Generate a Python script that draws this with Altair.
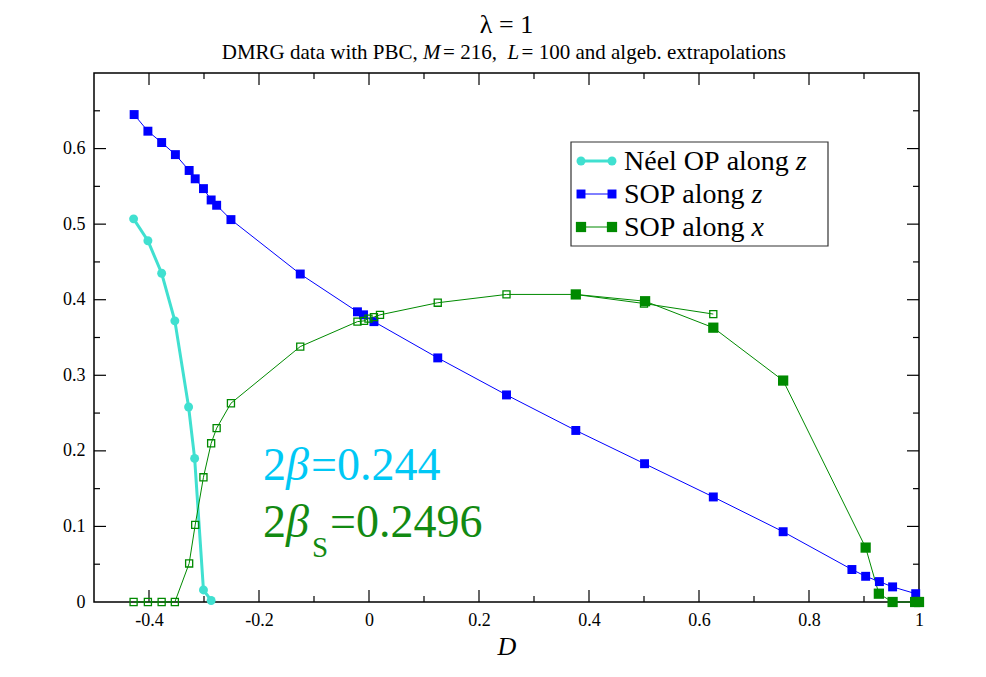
import altair as alt
import pandas as pd

# ---------------- data ----------------
neel_D = [-0.428, -0.402, -0.377, -0.353, -0.328, -0.317, -0.301, -0.287]
neel_v = [0.507, 0.478, 0.435, 0.372, 0.258, 0.190, 0.016, 0.002]

sopz_D = [-0.427, -0.402, -0.377, -0.352, -0.327, -0.316, -0.301, -0.287, -0.277, -0.251,
          -0.125, -0.021, -0.010, 0.009, 0.125, 0.250, 0.376, 0.501, 0.626, 0.753,
          0.878, 0.903, 0.928, 0.952, 0.994]
sopz_v = [0.645, 0.623, 0.608, 0.592, 0.571, 0.560, 0.547, 0.532, 0.525, 0.506,
          0.434, 0.384, 0.380, 0.371, 0.323, 0.274, 0.227, 0.183, 0.139, 0.093,
          0.043, 0.034, 0.027, 0.020, 0.011]

sopx_open_D = [-0.428, -0.402, -0.377, -0.353, -0.327, -0.316, -0.301, -0.287, -0.277, -0.251,
               -0.125, -0.021, -0.009, -0.001, 0.009, 0.020, 0.125, 0.250, 0.375, 0.500, 0.626]
sopx_open_v = [0.0, 0.0, 0.0, 0.0, 0.051, 0.102, 0.165, 0.210, 0.230, 0.263,
               0.338, 0.371, 0.372, 0.375, 0.377, 0.380, 0.396, 0.407, 0.407, 0.395, 0.381]

sopx_fill_D = [0.376, 0.502, 0.626, 0.753, 0.903, 0.927, 0.952, 0.993, 1.0]
sopx_fill_v = [0.407, 0.398, 0.363, 0.293, 0.072, 0.011, 0.0, 0.0, 0.0]

x_major = [-0.4, -0.2, 0.0, 0.2, 0.4, 0.6, 0.8]
x_minor = [-0.3, -0.1, 0.1, 0.3, 0.5, 0.7, 0.9]
x_labels = [-0.4, -0.2, 0.0, 0.2, 0.4, 0.6, 0.8, 1.0]
y_major = [0.1, 0.2, 0.3, 0.4, 0.5, 0.6]
y_minor = [0.05, 0.15, 0.25, 0.35, 0.45, 0.55, 0.65]
y_labels = [0.0, 0.1, 0.2, 0.3, 0.4, 0.5, 0.6]

NB = "\u00a0"
title_text = "λ = 1"
sub_pieces = [("DMRG data with PBC, ", False), ("M", True), (" = 216, ", False),
              ("L", True), (" = 100 and algeb. extrapolations", False)]
legend_labels = [("Néel OP along ", "z"), ("SOP along ", "z"), ("SOP along ", "x")]

# ---------------- style ----------------
F = "Liberation Serif"
W, H = 825, 529
C_NEEL = "#40E0D0"
C_BLUE = "#0000FF"
C_GREEN = "#008A00"
C_TXT_CYAN = "#00C8F5"
C_TXT_GREEN = "#128A12"

# Times metrics (per 1000 em) for laying out mixed-style text
REG = {' ': 250, ',': 250, '.': 250, '=': 564, 'D': 722, 'M': 889, 'R': 667, 'G': 722,
       'P': 556, 'B': 667, 'C': 667, 'N': 722, 'O': 722, 'S': 556, 'L': 611,
       'a': 444, 'b': 500, 'd': 500, 'e': 444, 'é': 444, 'g': 500, 'h': 500, 'i': 278,
       'l': 278, 'n': 500, 'o': 500, 'p': 500, 'r': 333, 's': 389, 't': 278, 'w': 722,
       'x': 500}
ITA = {'M': 833, 'L': 556, 'z': 389, 'x': 444}


def width(s, size, italic=False):
    tab = ITA if italic else REG
    w = sum(tab.get(c, 500) for c in s) * size / 1000.0
    return w + (size * 0.12 if italic else 0.0)


one = pd.DataFrame({"k": [0]})

xs = alt.Scale(domain=[-0.5, 1.0], nice=False, zero=False)
ys = alt.Scale(domain=[0.0, 0.7], nice=False, zero=False)

xaxis = alt.Axis(values=x_labels, ticks=False, domain=False, grid=False,
                 labelFont=F, labelFontSize=18, labelColor="black", labelPadding=9,
                 labelFlush=False, labelOverlap=False,
                 labelExpr="datum.value == 0 ? '0' : (datum.value == 1 ? '1' : replace(format(datum.value, '.1f'), '\u2212', '-'))",
                 title="D", titleFont=F, titleFontStyle="italic", titleFontWeight="normal",
                 titleFontSize=26, titleColor="black", titlePadding=4)
yaxis = alt.Axis(values=y_labels, ticks=False, domain=False, grid=False,
                 labelFont=F, labelFontSize=18, labelColor="black", labelPadding=9,
                 labelFlush=False, labelOverlap=False,
                 labelExpr="datum.value == 0 ? '0' : format(datum.value, '.1f')",
                 title=None)


def XE(field):
    return alt.X(field, type="quantitative", scale=xs, axis=xaxis)


def YE(field):
    return alt.Y(field, type="quantitative", scale=ys, axis=yaxis)


def sdf(D, v):
    return pd.DataFrame({"D": D, "v": v, "i": list(range(len(D)))})


layers = []

# ---- inward ticks on all four sides ----
def xticks(vals, L):
    d = pd.DataFrame({"t": vals})
    bot = alt.Chart(d).mark_rule(color="black", strokeWidth=1.2).encode(
        x=XE("t"), y=alt.value(H), y2=alt.value(H - L))
    top = alt.Chart(d).mark_rule(color="black", strokeWidth=1.2).encode(
        x=XE("t"), y=alt.value(0), y2=alt.value(L))
    return [bot, top]


def yticks(vals, L):
    d = pd.DataFrame({"t": vals})
    lef = alt.Chart(d).mark_rule(color="black", strokeWidth=1.2).encode(
        y=YE("t"), x=alt.value(0), x2=alt.value(L))
    rig = alt.Chart(d).mark_rule(color="black", strokeWidth=1.2).encode(
        y=YE("t"), x=alt.value(W), x2=alt.value(W - L))
    return [lef, rig]


layers += xticks(x_major, 12) + xticks(x_minor, 6) + yticks(y_major, 12) + yticks(y_minor, 6)

# ---- series ----
neel = sdf(neel_D, neel_v)
sopz = sdf(sopz_D, sopz_v)
sopx_o = sdf(sopx_open_D, sopx_open_v)
sopx_f = sdf(sopx_fill_D, sopx_fill_v)

layers.append(alt.Chart(neel).mark_line(color=C_NEEL, strokeWidth=3).encode(
    x=XE("D"), y=YE("v"), order="i:Q"))
layers.append(alt.Chart(neel).mark_point(shape="circle", filled=True, color=C_NEEL, size=80, opacity=1).encode(
    x=XE("D"), y=YE("v")))

layers.append(alt.Chart(sopx_o).mark_line(color=C_GREEN, strokeWidth=1).encode(
    x=XE("D"), y=YE("v"), order="i:Q"))
layers.append(alt.Chart(sopx_f).mark_line(color=C_GREEN, strokeWidth=1).encode(
    x=XE("D"), y=YE("v"), order="i:Q"))

layers.append(alt.Chart(sopz).mark_line(color=C_BLUE, strokeWidth=1).encode(
    x=XE("D"), y=YE("v"), order="i:Q"))
layers.append(alt.Chart(sopz).mark_point(shape="square", filled=True, color=C_BLUE, size=80, opacity=1).encode(
    x=XE("D"), y=YE("v")))

layers.append(alt.Chart(sopx_o).mark_point(shape="square", filled=False, color=C_GREEN, fill="white",
                                           fillOpacity=0, size=50, strokeWidth=1.3, opacity=1).encode(
    x=XE("D"), y=YE("v")))
layers.append(alt.Chart(sopx_f).mark_point(shape="square", filled=True, color=C_GREEN, size=105, opacity=1).encode(
    x=XE("D"), y=YE("v")))

# ---- annotations ----
def txt(s, x, y, size, color, italic=False, align="left"):
    s = s.replace(" ", NB)
    return alt.Chart(one).mark_text(text=s, font=F, fontSize=size, color=color, align=align,
                                    baseline="alphabetic", fontWeight="normal",
                                    fontStyle="italic" if italic else "normal").encode(
        x=alt.value(x), y=alt.value(y))


AS = 46
ax0 = 169
layers.append(txt("2", ax0, 407, AS, C_TXT_CYAN))
layers.append(txt("β", ax0 + 23, 407, AS, C_TXT_CYAN, italic=True))
layers.append(txt("=0.244", ax0 + 48, 407, AS, C_TXT_CYAN))
layers.append(txt("2", ax0, 464, AS, C_TXT_GREEN))
layers.append(txt("β", ax0 + 23, 464, AS, C_TXT_GREEN, italic=True))
layers.append(txt("S", ax0 + 49, 484, 29, C_TXT_GREEN))
layers.append(txt("=0.2496", ax0 + 67, 464, AS, C_TXT_GREEN))

# ---- title and subtitle ----
layers.append(txt(title_text, W / 2, -40, 26, "black", align="center"))
SS = 21
tot = sum(width(s, SS, it) for s, it in sub_pieces)
cx = W / 2 - tot / 2
for s, it in sub_pieces:
    layers.append(txt(s, cx, -14, SS, "black", italic=it))
    cx += width(s, SS, it)

# ---- legend ----
LX0, LX1, LY0, LY1 = 477, 734, 69, 173
layers.append(alt.Chart(one).mark_rect(fill="white", stroke="#333333", strokeWidth=1.2).encode(
    x=alt.value(LX0), x2=alt.value(LX1), y=alt.value(LY0), y2=alt.value(LY1)))
rows = [(88, C_NEEL, "circle", 80, 3), (121, C_BLUE, "square", 80, 1), (154, C_GREEN, "square", 105, 1)]
LS = 28
for (ry, col, shp, sz, lw), (lab, var) in zip(rows, legend_labels):
    layers.append(alt.Chart(one).mark_rule(color=col, strokeWidth=lw).encode(
        x=alt.value(487), x2=alt.value(518), y=alt.value(ry)))
    for mx in (487, 518):
        layers.append(alt.Chart(one).mark_point(shape=shp, filled=True, color=col, size=sz, opacity=1).encode(
            x=alt.value(mx), y=alt.value(ry)))
    layers.append(txt(lab.rstrip(), 530, ry + 9, LS, "black"))
    layers.append(txt(var, 530 + width(lab, LS), ry + 9, LS, "black", italic=True))

chart = alt.layer(*layers).properties(
    width=W, height=H,
    autosize=alt.AutoSizeParams(type="none"),
    padding={"left": 86, "top": 65, "right": 40, "bottom": 60},
    background="white",
).configure(font=F).configure_view(stroke="black", strokeWidth=1.5)

chart.save("out.html", embed_options={"renderer": "svg", "actions": False})
